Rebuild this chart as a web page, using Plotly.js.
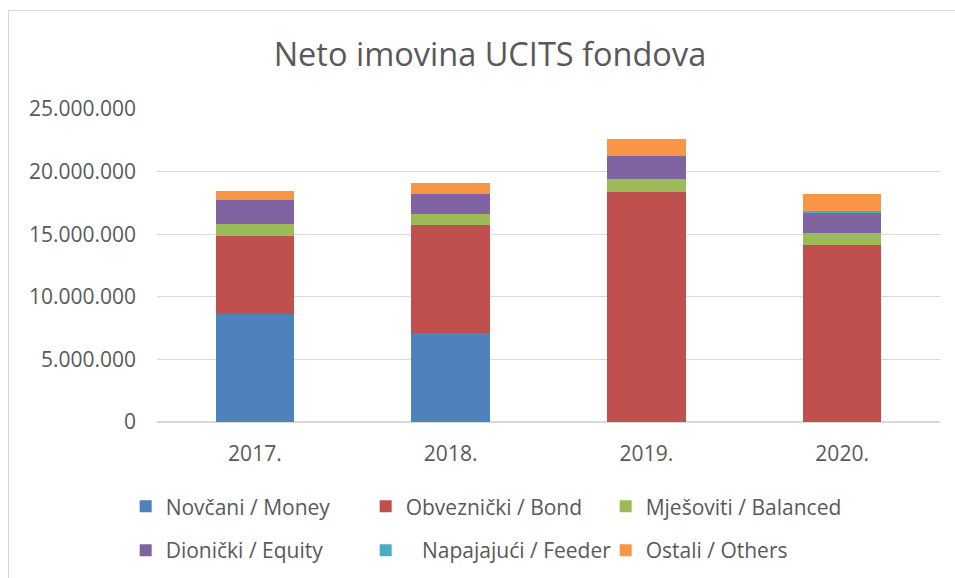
<!DOCTYPE html>
<html>
<head>
<meta charset="utf-8">
<script src="https://cdn.plot.ly/plotly-3.0.1.min.js"></script>
<style>
  html, body { margin: 0; padding: 0; background: #fff; }
  #wrap { position: relative; width: 955px; height: 578px; overflow: hidden; }
  #chart { width: 955px; height: 578px; }
  #frame { position: absolute; left: 8px; top: 10px; width: 1000px; height: 700px;
           border-left: 1px solid #d9d9d9; border-top: 1px solid #d9d9d9; pointer-events: none; }
</style>
</head>
<body>
<div id="wrap">
  <div id="chart"></div>
  <div id="frame"></div>
</div>
<script>
const years = ["2017.", "2018.", "2019.", "2020."];
const seriesNames = ["Novčani / Money", "Obveznički / Bond", "Mješoviti / Balanced",
                     "Dionički / Equity", "\u00a0\u00a0\u00a0Napajajući / Feeder", "Ostali / Others"];
const money    = [8650000, 7110000, 0, 0];
const bond     = [6230000, 8630000, 18390000, 14140000];
const balanced = [930000, 880000, 1010000, 930000];
const equity   = [1890000, 1600000, 1810000, 1650000];
const feeder   = [0, 0, 0, 160000];
const others   = [770000, 880000, 1360000, 1330000];
const colors = ["#4f81bd", "#c0504d", "#9bbb59", "#8064a2", "#4bacc6", "#f79646"];
const values = [money, bond, balanced, equity, feeder, others];

const FONT = "Open Sans, DejaVu Sans, sans-serif";
const traces = values.map((v, i) => ({
  type: "bar",
  x: years,
  y: v,
  name: seriesNames[i],
  legend: i < 3 ? "legend" : "legend2",
  marker: { color: colors[i], line: { width: 0 } },
  hoverinfo: "x+y+name"
}));

const legendBase = {
  orientation: "h",
  x: -0.04, xanchor: "left",
  yanchor: "top",
  traceorder: "normal",
  entrywidth: 195,
  entrywidthmode: "pixels",
  font: { family: FONT, size: 21, color: "#595959" },
  itemwidth: 30,
  bgcolor: "rgba(0,0,0,0)"
};

const layout = {
  width: 955, height: 578,
  barmode: "stack",
  bargap: 0.6,
  separators: ",.",
  paper_bgcolor: "#ffffff",
  plot_bgcolor: "#ffffff",
  margin: { l: 157, r: 15, t: 109, b: 156, autoexpand: false },
  title: {
    text: "Neto imovina UCITS fondova",
    font: { family: FONT, size: 32.5, color: "#595959" },
    x: 0.513, xanchor: "center",
    y: 0.905, yanchor: "middle"
  },
  font: { family: FONT, color: "#595959" },
  xaxis: {
    type: "category",
    tickfont: { family: FONT, size: 21, color: "#595959" },
    showline: false,
    showgrid: false,
    ticks: "",
    ticklabelstandoff: 17
  },
  yaxis: {
    range: [0, 25000000],
    dtick: 5000000,
    tick0: 0,
    tickformat: ",d",
    tickfont: { family: FONT, size: 21, color: "#595959" },
    showgrid: true,
    gridcolor: "#d9d9d9",
    gridwidth: 1.3,
    zeroline: true,
    zerolinecolor: "#d9d9d9",
    zerolinewidth: 1.3,
    showline: false,
    ticks: "",
    ticklabelstandoff: 20
  },
  legend: Object.assign({}, legendBase, { y: -0.205 }),
  legend2: Object.assign({}, legendBase, { y: -0.345 }),
  showlegend: true
};

Plotly.newPlot("chart", traces, layout, { displayModeBar: false, staticPlot: true });
</script>
</body>
</html>
